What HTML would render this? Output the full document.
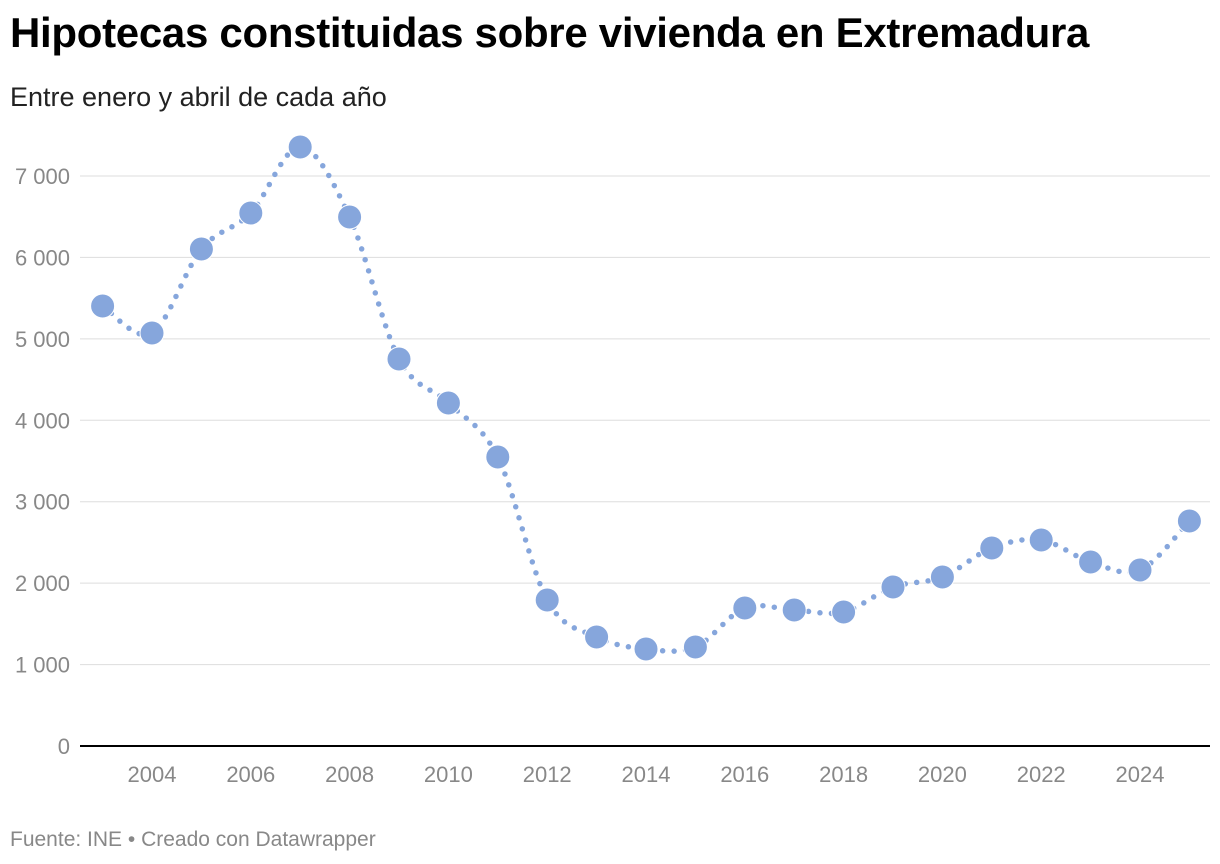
<!DOCTYPE html>
<html><head><meta charset="utf-8">
<style>
body{margin:0;background:#fff;width:1220px;height:864px;overflow:hidden;font-family:"Liberation Sans",Arial,sans-serif;}
h1{position:absolute;left:10px;top:9px;margin:0;font-size:42px;font-weight:bold;color:#000;letter-spacing:-0.3px}
.sub{position:absolute;left:10px;top:82px;font-size:27px;color:#222}
.foot{position:absolute;left:10px;top:828px;font-size:21px;color:#888}
svg{position:absolute;left:0;top:0}
</style></head><body>
<h1>Hipotecas constituidas sobre vivienda en Extremadura</h1>
<div class="sub">Entre enero y abril de cada año</div>
<div class="foot">Fuente: INE • Creado con Datawrapper</div>
<svg id="chart" width="1220" height="864"></svg>
<script>
const years=[2003,2004,2005,2006,2007,2008,2009,2010,2011,2012,2013,2014,2015,2016,2017,2018,2019,2020,2021,2022,2023,2024,2025];
const values=[5403,5072,6103,6546,7356,6496,4753,4212,3549,1793,1339,1191,1216,1695,1670,1646,1953,2075,2432,2530,2260,2161,2763];
const yTicks=[0,1000,2000,3000,4000,5000,6000,7000];
const yTickLabels=["0","1 000","2 000","3 000","4 000","5 000","6 000","7 000"];
const xTicks=[2004,2006,2008,2010,2012,2014,2016,2018,2020,2022,2024];
const NS="http://www.w3.org/2000/svg";
const svg=document.getElementById('chart');
const x=v=>152+(v-2004)*(1140-152)/20;
const y=v=>746-v*(746-176)/7000;
function mk(t,a){const e=document.createElementNS(NS,t);for(const k in a)e.setAttribute(k,a[k]);svg.appendChild(e);return e;}
yTicks.forEach((t,i)=>{
 if(t>0){const g=mk('line',{x1:80,x2:1210,y1:y(t),y2:y(t),stroke:'#dddddd','stroke-width':1});
 
 }
 const l=mk('text',{x:70,y:y(t)+8,'text-anchor':'end','font-size':22,fill:'#888'});
 l.textContent=yTickLabels[i];
 
 
});
const base=mk('line',{x1:80,x2:1210,y1:y(0),y2:y(0),stroke:'#000','stroke-width':2});


xTicks.forEach(t=>{
 const l=mk('text',{x:x(t),y:782,'text-anchor':'middle','font-size':22,fill:'#888'});
 l.textContent=t;
 
 
});
const pts=years.map((yr,i)=>[x(yr),y(values[i])]);
let d=`M${pts[0][0]},${pts[0][1]}`;
for(let i=0;i<pts.length-1;i++){
 const p0=pts[Math.max(0,i-1)],p1=pts[i],p2=pts[i+1],p3=pts[Math.min(pts.length-1,i+2)];
 const c1=[p1[0]+(p2[0]-p0[0])/6,p1[1]+(p2[1]-p0[1])/6];
 const c2=[p2[0]-(p3[0]-p1[0])/6,p2[1]-(p3[1]-p1[1])/6];
 d+=` C${c1[0]},${c1[1]} ${c2[0]},${c2[1]} ${p2[0]},${p2[1]}`;
}
const line=mk('path',{d:d,fill:'none',stroke:'#86a6dc','stroke-width':5.5,'stroke-linecap':'round','stroke-dasharray':'0 11.5'});


pts.forEach((p,i)=>{
 const c=mk('circle',{cx:p[0],cy:p[1],r:12,fill:'#86a6dc',stroke:'#fff','stroke-width':1});
 
 
});
</script>
</body></html>
